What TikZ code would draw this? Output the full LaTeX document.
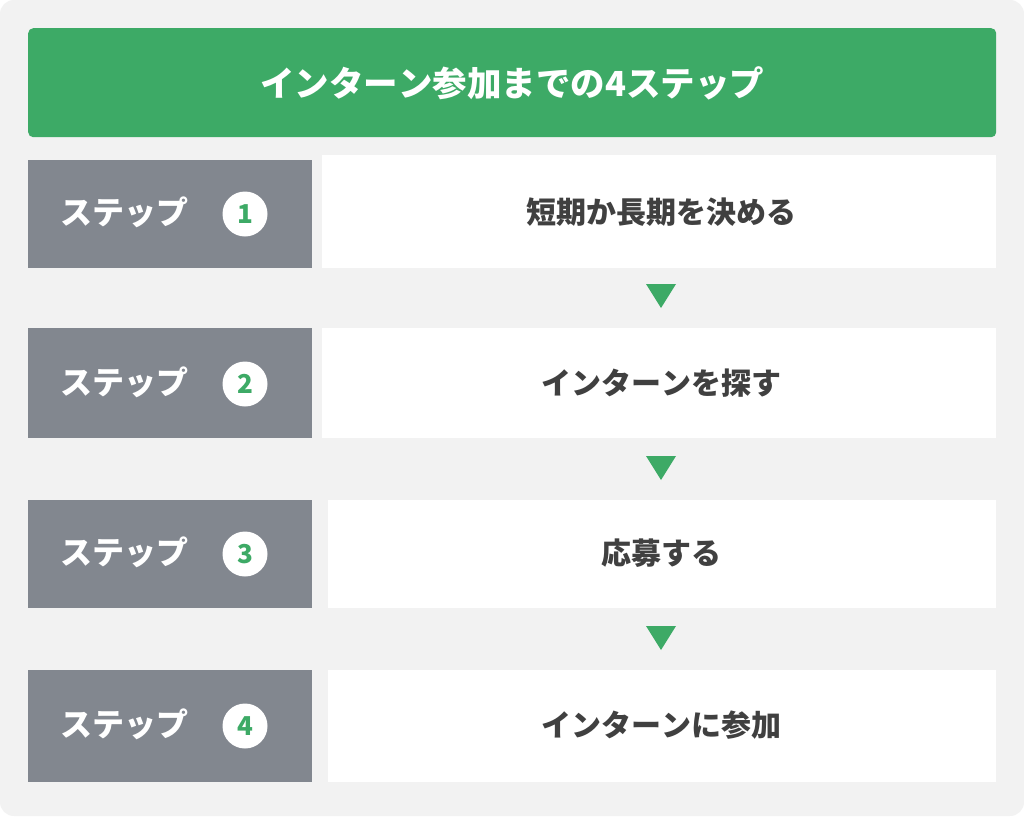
\documentclass[tikz,border=0pt]{standalone}
\usepackage{fontspec}
\setmainfont{Noto Sans CJK JP}[Kerning=Off]
\definecolor{bgc}{HTML}{F2F2F2}
\definecolor{grn}{HTML}{3DAA66}
\definecolor{gbox}{HTML}{82878F}
\definecolor{txt}{HTML}{404040}
\begin{document}
\begin{tikzpicture}[x=1pt,y=-1pt,
  header/.style={fill=grn,rounded corners=5pt,draw=none,anchor=north west,inner sep=0pt},
  stepbox/.style={fill=gbox,draw=none,anchor=north west,inner sep=0pt},
  contentbox/.style={fill=white,draw=none,anchor=north west,inner sep=0pt},
  steplabel/.style={text=white,font=\fontsize{32}{32}\selectfont\bfseries,inner sep=0pt},
  bodytext/.style={text=txt,font=\fontsize{30}{30}\selectfont\bfseries,inner sep=0pt},
  numcircle/.style={circle,fill=white,minimum size=45pt,inner sep=0pt,text=grn,
    font=\fontsize{26}{26}\selectfont\bfseries},
  downtri/.style={fill=grn,draw=none}]
\useasboundingbox (0,0) rectangle (1024,816);
\fill[white] (0,0) rectangle (1024,816);
\fill[bgc,rounded corners=14pt] (0,0) rectangle (1024,816);
\node[header,minimum width=968pt,minimum height=109pt] (title) at (28,28) {};
\node[text=white,inner sep=0pt,font=\fontsize{34.5}{34.5}\selectfont\bfseries] (titletext) at ([yshift=-1pt]title.center) {インターン参加までの4ステップ};
% rows
\node[stepbox,minimum width=284pt,minimum height=108pt] (s1) at (28,160) {};
\node[contentbox,minimum width=674pt,minimum height=113pt] (c1) at (322,155) {};
\node[stepbox,minimum width=284pt,minimum height=110pt] (s2) at (28,328) {};
\node[contentbox,minimum width=674pt,minimum height=110pt] (c2) at (322,328) {};
\node[stepbox,minimum width=284pt,minimum height=108pt] (s3) at (28,500) {};
\node[contentbox,minimum width=668pt,minimum height=108pt] (c3) at (328,500) {};
\node[stepbox,minimum width=284pt,minimum height=112pt] (s4) at (28,670) {};
\node[contentbox,minimum width=668pt,minimum height=112pt] (c4) at (328,670) {};
% labels
\foreach \i/\y in {1/214,2/384,3/554,4/726}{
  \node[steplabel,anchor=west] (l\i) at (60,\y-2) {ステップ};
  \node[numcircle] (n\i) at (245,\y) {\i};
}
\node[bodytext] (t1) at (661,212) {短期か長期を決める};
\node[bodytext] (t2) at (661,383) {インターンを探す};
\node[bodytext] (t3) at (661,553) {応募する};
\node[bodytext] (t4) at (661,725) {インターンに参加};
% triangles
\foreach \y in {284,456,626}{
  \fill[downtri] (646,\y) -- (676,\y) -- (661,\y+24) -- cycle;
}
\end{tikzpicture}
\end{document}
